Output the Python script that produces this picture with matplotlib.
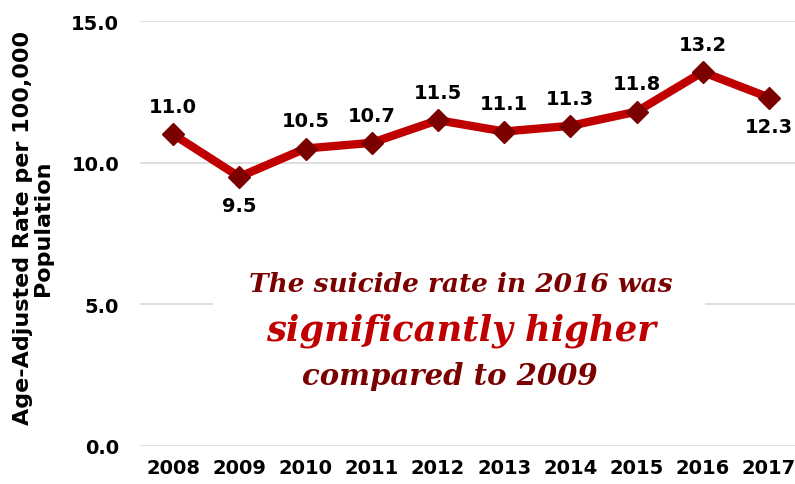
import matplotlib.pyplot as plt
from matplotlib.patches import Rectangle

years = ['2008', '2009', '2010', '2011', '2012', '2013', '2014', '2015', '2016', '2017']
rates = [11.0, 9.5, 10.5, 10.7, 11.5, 11.1, 11.3, 11.8, 13.2, 12.3]
label_below = ['2009', '2017']
yticks = [0.0, 5.0, 10.0, 15.0]

fig = plt.figure(figsize=(7.95, 4.85), dpi=100)
# axes runs a bit past the right edge, like the cropped original
ax = fig.add_axes([140 / 795, 38 / 485, 662 / 795, 425 / 485])

x = range(len(years))
ax.plot(x, rates, color='#C00000', linewidth=6, solid_joinstyle='round',
        marker='D', markersize=11, markerfacecolor='#7B0000',
        markeredgecolor='#7B0000', zorder=3)

for i, (yr, v) in enumerate(zip(years, rates)):
    off = -21 if yr in label_below else 20
    ax.annotate(f'{v:.1f}', (i, v), xytext=(0, off), textcoords='offset points',
                ha='center', va='center', fontsize=14, fontweight='bold')

ax.set_xlim(-0.5, len(years) - 0.5)
ax.set_ylim(0, 15)
ax.set_yticks(yticks)
ax.set_yticklabels([f'{t:.1f}' for t in yticks], fontsize=14, fontweight='bold')
ax.set_xticks(list(x))
ax.set_xticklabels(years, fontsize=14, fontweight='bold')
ax.tick_params(axis='x', length=0, pad=9)
ax.tick_params(axis='y', length=0, pad=15)
ax.grid(axis='y', color='#D9D9D9', linewidth=1.2)
ax.set_axisbelow(True)
for s in ax.spines.values():
    s.set_visible(False)

fig.text(33 / 795, 0.53, 'Age-Adjusted Rate per 100,000\nPopulation', rotation=90,
         ha='center', va='center', fontsize=16, fontweight='bold', linespacing=1.0)

# white box behind the note, hides the 5.0 gridline
ax.add_patch(Rectangle((213 / 795, 1 - 395 / 485), 492 / 795, 130 / 485,
                       transform=fig.transFigure, facecolor='white',
                       edgecolor='none', zorder=1, clip_on=False))

note = dict(transform=fig.transFigure, ha='center', va='center', fontweight='bold',
            fontstyle='italic', family=['DejaVu Serif'], zorder=4)
ax.text(461 / 795, 1 - 285 / 485, 'The suicide rate in 2016 was', fontsize=19,
        color='#7B0000', **note)
ax.text(461 / 795, 1 - 331 / 485, 'significantly higher', fontsize=25.5,
        color='#C00000', **note)
ax.text(450 / 795, 1 - 377 / 485, 'compared to 2009', fontsize=21,
        color='#7B0000', **note)

fig.savefig('out.png', dpi=100)
